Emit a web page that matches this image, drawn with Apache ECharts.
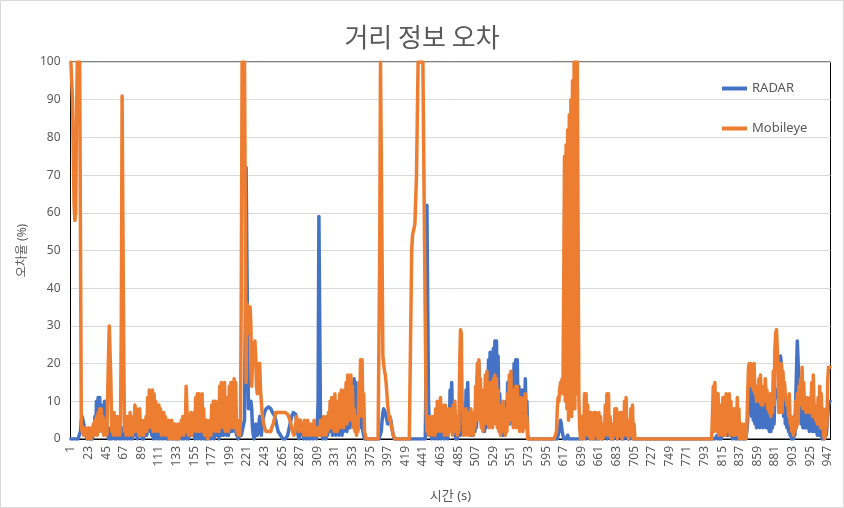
<!DOCTYPE html>
<html>
<head>
<meta charset="utf-8">
<style>
html,body{margin:0;padding:0;background:#fff;}
#chart{width:844px;height:508px;}
</style>
<script src="https://cdn.jsdelivr.net/npm/echarts@6/dist/echarts.min.js"></script>
</head>
<body>
<div id="chart"></div>
<script>
const titleText = '거리 정보 오차';
const xName = '시간 (s)';
const yName = '오차율 (%)';
const seriesNames = ['RADAR', 'Mobileye'];
const categoryCount = 950;
const categories = [];
for (let i = 1; i <= categoryCount; i++) categories.push(String(i));

const radar = [
// 1-20
0,0,0,0,0,0,0,0,0,0,0,0,2,5,6,6,4,3,2,1,
// 21-100
0,0,1,0,1,0,2,0,3,1, 6,2,10,4,11,5,11,3,9,2, 8,3,10,2,7,1,3,0,2,0, 3,0,4,1,3,0,2,0,3,1,
2,0,1,0,3,1,2,0,4,1, 2,0,3,1,2,0,3,0,2,1, 4,1,3,0,2,1,4,1,3,0, 2,0,3,1,4,1,6,2,8,3,
// 101-220
5,1,4,0,5,1,4,0,3,1, 2,0,3,1,2,0,2,1,3,0, 2,0,1,0,2,1,0,1,0,1, 1,0,2,0,1,0,2,1,2,0,
1,0,2,1,2,0,1,0,3,1, 3,1,4,1,3,0,4,1,3,0, 3,1,2,0,2,1,1,0,2,0, 1,0,2,1,1,0,2,1,3,0,
2,1,3,1,2,0,4,1,5,1, 4,1,5,2,4,1,5,1,6,2, 7,2,8,3,6,2,5,1,2,0, 0,1,2,1,2,3,4,5,30,72,
// 221-260
72,25,8,10,9,10,8,3,1,0, 1,4,3,1,2,4,6,3,1,3, 5,6,7,7.5,8,8.5,8.5,8.5,8.5,8, 8,7.5,7,7,6.5,6,5,4,3,2,
// 261-290
2,1.5,1,0.5,0.5,0,0,0,0,0, 0.5,1,2,3,4,5,6,6.5,7,7, 7,6.5,5,3,1,0,1,3,2,1,
// 291-310
2,0,3,1,2,0,4,1,2,0, 3,1,2,0,2,1,3,0,3,10,
// 311-370
59,59,4,1,2,0,3,1,2,0, 3,1,5,2,6,2,5,1,6,2, 5,1,7,2,6,1,5,2,6,1, 7,2,8,3,7,2,8,3,7,3,
11,4,15,6,16,7,15,5,12,4, 10,4,10,3,6,2,1,0,0,0,
// 371-386
0,0,0,0,0,0,0,0,0,0,0,0,0,0,0,0,
// 387-410
0,0,2,5,7,8,8,7,6,5,4,5,6,6,5,3,2,1,0,0,0,0,0,0,
// 411-426
0,0,0,0,0,0,0,0,0,0,0,0,0,0,0,0,
// 427-444
0,0,0,0,0,0,0,0,0,0,0,0,0,0,0,0,0,0,
// 445-572
20,62,62,10,4,1,3,0,4,1, 3,0,4,1,2,0,5,1,3,0, 0,0,2,0,6,2,3,0,7,2, 13,4,15,5,8,2,
3,0,2,0,3,1,5,1,7,2, 7,2,8,3,13,5,15,4,6,1, 3,1,3,1,5,2,8,3,17,6, 20,6,12,4,11,3,9,2,10,3,
15,5,21,6,23,7,22,8,24,9, 26,9,26,8,22,5,12,3,6,1, 4,1,5,2,10,4,15,5,12,4, 14,5,18,6,20,7,21,7,21,6,
14,4,11,3,13,4,13,5,16,6, 10,1,
// 573-607
0,0,0,0,0,0,0,0,0,0, 0,0,0,0,0,0,0,0,0,0, 0,0,0,0,0,0,0,0,0,0, 0,0,0,0,0,
// 608-616
0,0,1,2,3,5,4,2,1,
// 617-636
0,0,0,0,0,1,0,0,0,0, 0,0,0,0,0,0,0,0,0,0,
// 637-706
0,0,1,0,0,1,2,1,0,0, 1,2,1,0,0,1,0,0,1,0, 0,0,0,1,0,0,0,1,0,0, 0,1,2,1,0,0,1,2,1,0,
0,1,0,0,1,2,1,0,0,1, 2,1,0,0,1,0,0,1,2,1, 0,0,1,0,0,0,1,0,0,0,
// 707-802
0,0,0,0,0,0,0,0,0,0, 0,0,0,0,0,0,0,0,0,0, 0,0,0,0,0,0,0,0,0,0, 0,0,0,0,0,0,0,0,0,0,
0,0,0,0,0,0,0,0,0,0, 0,0,0,0,0,0,0,0,0,0, 0,0,0,0,0,0,0,0,0,0, 0,0,0,0,0,0,0,0,0,0,
0,0,0,0,0,0,0,0,0,0, 0,0,0,0,0,0,
// 803-850
0,0,0,0,0,0,1,0,2,0, 2,0,3,1,3,1,4,1,3,1, 4,1,3,1,2,0,3,1,2,0, 2,0,1,0,1,0,1,0,1,0, 1,0,1,2,5,10,14,15,
// 851-950
15,6,14,5,12,4,10,3,10,4, 9,3,9,4,8,3,9,4,10,3, 8,3,6,2,6,2,6,3,9,4, 12,13,12,11,12,16,20,22,20,16,
15,6,12,4,9,3,6,2,3,1, 2,0,1,0,2,1,10,18,26,26, 15,5,11,4,9,3,8,3,8,3, 9,3,8,2,7,3,6,2,7,2,
5,2,4,1,4,1,3,1,2,0, 1,0,0,0,1,3,6,9,10,10
];

const mobileye = [
// 1-20
100,100,90,75,62,58,60,85,100,100,100,100,100,4,2,3,1,2,3,1,
// 21-60
2,0,3,1,2,0,3,1,4,1, 5,2,6,1,7,2,8,3,8,2, 6,1,5,2,4,1,12,22,30,30, 15,2,6,1,7,2,5,1,6,2,
// 61-100
4,1,5,30,91,91,25,2,5,1, 6,2,5,1,7,2,6,1,5,2, 9,2,8,3,6,1,8,2,5,1, 4,1,5,2,6,2,11,3,13,4,
// 101-140
12,3,13,2,12,4,10,2,9,3, 9,2,8,1,7,2,7,1,6,2, 5,1,5,0,4,1,5,0,4,1, 4,0,3,1,4,0,3,1,5,2,
// 141-220
6,1,5,2,14,14,3,1,6,2, 7,1,6,2,7,3,11,2,12,3, 12,2,11,3,12,2,8,1,5,1, 5,0,4,1,5,1,9,2,10,3,
10,2,9,3,10,2,14,3,15,4, 14,3,15,2,11,3,11,2,14,3, 15,4,15,3,16,4,15,2,5,1, 4,1,5,40,100,100,100,100,60,15,
// 221-260
36,36,34,28,35,30,14,20,25,24, 26,22,14,12,20,18,20,13,10,7, 5,4,3,3,2,2,2,2,2,2, 2,3,3,4,5,6,7,7,7,7,
// 261-290
7,7,7,7,7,7,7,7,7,7, 7,6.5,6,5.5,5,4,3,2,1.5,1, 2,4,6,5,3,2,4,5,3,2,
// 291-310
4,1,5,2,3,1,5,2,3,1, 4,1,3,2,5,1,3,1,3,2,
// 311-370
3,1,5,2,4,1,6,2,5,1, 6,2,7,3,10,3,11,4,9,2, 12,3,10,2,8,4,12,3,13,4, 12,3,13,5,15,4,17,5,16,6,
17,5,14,3,8,2,6,1,5,2, 15,6,21,8,21,6,12,2,1,0,
// 371-386
0,0,0,0,0,0,0,0,0,0,0,0,0,0,0,0,
// 387-410
50,100,100,100,22,20,18,17,15,12,9,7,5,6,4,3,2,1,0.5,0,0,0,0,0,
// 411-426
0,0,0,0,0,0,0,0,0,0,0,0,0,0,0,0,
// 427-444
50,54,55,56,57,57,70,85,100,100,100,100,100,100,100,100,100,30,
// 445-572
8,2,3,1,6,2,5,1,6,2, 5,1,8,2,10,3,8,2,11,3, 9,2,6,1,9,2,7,1,8,2, 7,2,8,1,9,2,
10,2,6,1,5,2,20,29,28,10, 7,1,7,2,8,1,6,2,7,1, 8,2,7,1,6,3,14,5,20,6, 21,5,16,3,13,2,12,4,17,5,
18,4,13,3,15,4,14,3,16,5, 17,4,16,3,13,2,7,1,9,2, 10,2,8,1,7,2,12,4,17,6, 18,5,12,3,13,4,14,3,14,4,
10,2,11,3,9,2,11,3,12,4, 6,0,
// 573-607
0,0,0,0,0,0,0,0,0,0, 0,0,0,0,0,0,0,0,0,0, 0,0,0,0,0,0,0,0,0,0, 0,0,0,0,0,
// 608-616
2,8,11,10,13,15,14,16,12,
// 617-636
40,75,10,78,8,82,5,86,12,90, 6,95,10,100,8,100,12,100,100,10,
// 637-706
3,0,6,1,2,0,12,1,12,2, 9,1,5,0,7,1,4,0,7,1, 7,1,6,0,7,1,6,0,2,0, 4,1,9,2,12,1,12,2,6,0,
3,0,4,1,8,1,8,0,4,1, 7,1,7,0,5,1,10,2,11,1, 4,0,5,1,8,1,9,0,4,0,
// 707-802
0,0,0,0,0,0,0,0,0,0, 0,0,0,0,0,0,0,0,0,0, 0,0,0,0,0,0,0,0,0,0, 0,0,0,0,0,0,0,0,0,0,
0,0,0,0,0,0,0,0,0,0, 0,0,0,0,0,0,0,0,0,0, 0,0,0,0,0,0,0,0,0,0, 0,0,0,0,0,0,0,0,0,0,
0,0,0,0,0,0,0,0,0,0, 0,0,0,0,0,0,
// 803-850
0,14,2,15,3,12,2,12,1,9, 2,9,1,11,2,11,1,12,2,10, 3,12,1,10,2,6,1,8,1,7, 2,11,1,8,0,4,1,4,0,3, 1,4,0,4,12,19,20,18,
// 851-950
20,14,19,13,20,12,13,10,14,11, 16,10,17,9,13,9,14,10,16,11, 13,8,11,7,12,6,10,7,18,9, 24,28,29,24,18,7,19,8,20,7,
18,14,15,12,12,9,11,6,12,4, 6,2,5,1,6,2,10,3,12,4, 14,10,16,9,19,8,15,8,10,7, 11,8,9,7,11,7,15,6,17,7,
9,5,8,4,11,4,14,3,12,3, 8,1,0,1,8,3,15,19,19,19
];

const yTicks = { min: 0, max: 100, interval: 10 };
const labelColor = '#595959';
const fontStack = "'Noto Sans', 'Noto Sans CJK KR', sans-serif";

const chart = echarts.init(document.getElementById('chart'), null, { renderer: 'canvas' });
chart.setOption({
  animation: false,
  backgroundColor: '#ffffff',
  title: {
    text: titleText,
    left: 'center',
    top: 19,
    textStyle: { fontFamily: "'Noto Sans CJK KR', sans-serif", fontSize: 26, fontWeight: 'normal', color: labelColor }
  },
  graphic: [{
    type: 'rect', silent: true, z: -1,
    shape: { x: 0.5, y: 0.5, width: 843, height: 507 },
    style: { fill: 'none', stroke: '#d9d9d9', lineWidth: 1 }
  }],
  legend: {
    orient: 'vertical',
    left: 722,
    top: 82,
    padding: 0,
    itemGap: 27,
    itemWidth: 25,
    itemHeight: 4,
    icon: 'rect',
    textStyle: { fontFamily: fontStack, fontSize: 13, color: labelColor },
    data: seriesNames
  },
  grid: {
    left: 70.5, right: 13.5, top: 62, bottom: 69,
    outerBoundsMode: 'none',
    show: true, borderColor: '#000000', borderWidth: 1, containLabel: false
  },
  xAxis: {
    type: 'category',
    data: categories,
    boundaryGap: true,
    name: xName,
    nameLocation: 'middle',
    nameGap: 51,
    nameTextStyle: { fontFamily: fontStack, fontSize: 13, color: labelColor },
    axisLine: { show: true, lineStyle: { color: '#000000' } },
    axisTick: { show: false },
    axisLabel: { interval: 21, rotate: 90, margin: 7, fontFamily: fontStack, fontSize: 12, color: labelColor },
    splitLine: { show: false }
  },
  yAxis: {
    type: 'value',
    min: yTicks.min, max: yTicks.max, interval: yTicks.interval,
    name: yName,
    nameLocation: 'middle',
    nameGap: 38,
    nameRotate: 90,
    nameTextStyle: { fontFamily: fontStack, fontSize: 12, color: labelColor },
    axisLine: { show: true, lineStyle: { color: '#000000' } },
    axisTick: { show: false },
    axisLabel: { margin: 10, fontFamily: fontStack, fontSize: 12, color: labelColor },
    splitLine: { show: true, lineStyle: { color: '#d9d9d9', width: 1 } }
  },
  series: [
    { name: seriesNames[0], type: 'line', data: radar, symbol: 'none', showSymbol: false,
      lineStyle: { width: 3.5, color: '#4472C4', join: 'round', cap: 'round' }, itemStyle: { color: '#4472C4' }, z: 2 },
    { name: seriesNames[1], type: 'line', data: mobileye, symbol: 'none', showSymbol: false,
      lineStyle: { width: 3.5, color: '#ED7D31', join: 'round', cap: 'round' }, itemStyle: { color: '#ED7D31' }, z: 3 }
  ]
});
</script>
</body>
</html>
